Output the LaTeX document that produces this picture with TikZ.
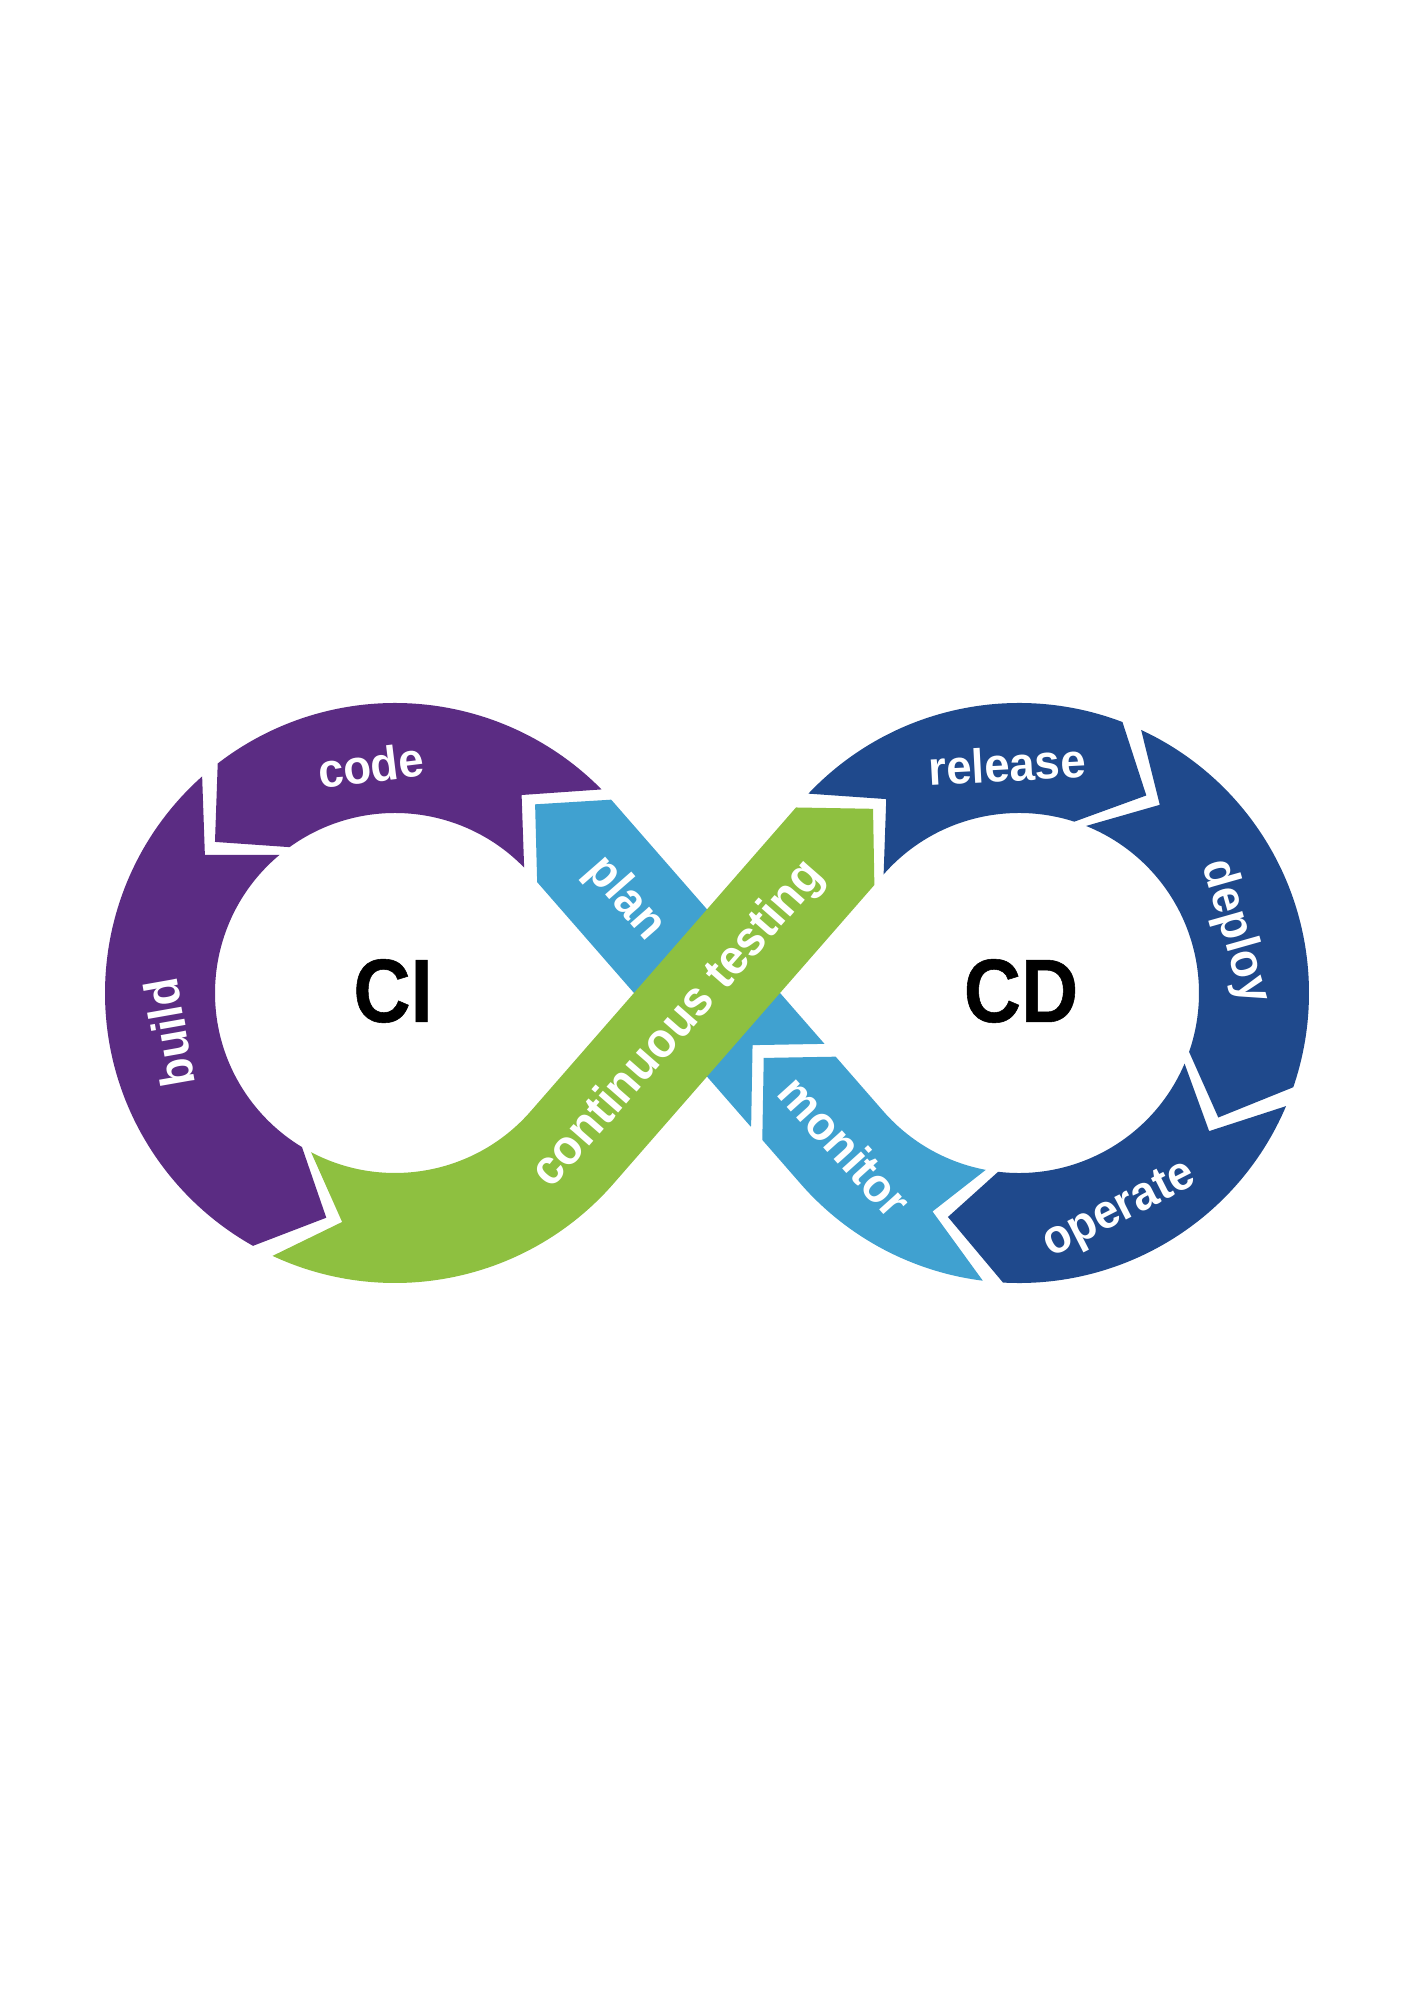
\documentclass[tikz,border=0pt]{standalone}
\usepackage{fontspec}
\usepackage{graphicx}
\usetikzlibrary{calc}
\newfontfamily\labelfont{Liberation Sans Bold}[FakeStretch=0.95]
\newfontfamily\bigfont{Liberation Sans Bold}[FakeStretch=0.88,FakeBold=0.6]
\definecolor{cipurple}{RGB}{91,44,131}
\definecolor{ctgreen}{RGB}{142,192,64}
\definecolor{plblue}{RGB}{64,161,208}
\definecolor{cddark}{RGB}{31,73,140}
\newcommand\chB{46}
\newcommand\chE{130}
\newcommand\chF{110}
% remove the region in front of a chevron head (tip, forward angle)
\newcommand\cuthead[2]{%
 \clip (-400,-400) -- (-400,2400) -- (1800,2400) -- (1800,-400) -- cycle
   ($(#1)+({#2+180-\chB}:\chE)$) -- (#1) -- ($(#1)+({#2+180+\chB}:\chE)$)
   -- ($(#1)+({#2+180+\chB}:\chE)+({#2}:\chF)$)
   -- ($(#1)+({#2+180-\chB}:\chE)+({#2}:\chF)$) -- cycle;}
% remove the region behind a chevron notch (notch tip, forward angle)
\newcommand\cuttail[2]{%
 \clip (-400,-400) -- (-400,2400) -- (1800,2400) -- (1800,-400) -- cycle
   (#1) -- ($(#1)+({#2+180-\chB}:\chE)$)
   -- ($(#1)+({#2+180-\chB}:\chE)+({#2+180}:\chF)$)
   -- ($(#1)+({#2+180+\chB}:\chE)+({#2+180}:\chF)$)
   -- ($(#1)+({#2+180+\chB}:\chE)$) -- cycle;}
\newcommand\lblfmt{\labelfont\fontsize{24}{28}\selectfont}
\begin{document}
\begin{tikzpicture}[x=0.5pt,y=0.5pt,
  seg/.style={line width=55pt},
  lbl/.style={text=white,font=\lblfmt,inner sep=0pt},
  arclbl/.style={lbl,anchor=base},
  bigtxt/.style={text=black,font=\bigfont\fontsize{45}{50}\selectfont,inner sep=0pt}]
\useasboundingbox (0,0) rectangle (1414,2000);
\fill[white] (0,0) rectangle (1414,2000);
\coordinate (CI) at (395,1007);
\coordinate (CD) at (1019,1007);
\pgfmathsetmacro\alf{asin(235/312)}
\coordinate (Pg) at ($(CI)+(270+\alf:235)$);
\coordinate (Qg) at ($(CD)+(90+\alf:235)$);
\coordinate (Qb) at ($(CD)+(270-\alf:235)$);
\coordinate (Pb) at ($(CI)+(90-\alf:235)$);
% chevron heads (H) and notches (N)
\coordinate (Hplan) at ($(CI)+(53.4:235)$);
\coordinate (Ncode) at ($(CI)+(57.4:235)$);
\coordinate (Hcode) at ($(CI)+(140:235)$);
\coordinate (Nbuild) at ($(CI)+(144:235)$);
\coordinate (Hbuild) at ($(CI)+(253:235)$);
\coordinate (Ngreen) at ($(CI)+(257:235)$);
\coordinate (Hgreen) at ($(CD)+(128.4:235)$);
\coordinate (Nrel) at ($(CD)+(124.4:235)$);
\coordinate (Hrel) at ($(CD)+(57.2:235)$);
\coordinate (Ndep) at ($(CD)+(53.2:235)$);
\coordinate (Hdep) at ($(CD)+(-32:235)$);
\coordinate (Nop) at ($(CD)+(-36:235)$);
\coordinate (Hop) at ($(CD)+(-107.6:235)$);
\coordinate (Nmon) at ($(CD)+(-111.6:235)$);
\coordinate (Hmon) at ($(Qb)+(180-\alf:119)$);
\coordinate (Nplan) at ($(Qb)+(180-\alf:136)$);
% code
\begin{scope}
 \cuttail{Ncode}{138}\cuthead{Hcode}{222}
 \draw[seg,cipurple] ($(CI)+(42.4:235)$) arc[start angle=42.4,end angle=140,radius=235];
\end{scope}
% build
\begin{scope}
 \cuttail{Nbuild}{226}\cuthead{Hbuild}{335}
 \draw[seg,cipurple] ($(CI)+(129:235)$) arc[start angle=129,end angle=253,radius=235];
\end{scope}
% release
\begin{scope}
 \cuttail{Nrel}{42}\cuthead{Hrel}{-26}
 \draw[seg,cddark] ($(CD)+(139.4:235)$) arc[start angle=139.4,end angle=57.2,radius=235];
\end{scope}
% deploy
\begin{scope}
 \cuttail{Ndep}{-30}\cuthead{Hdep}{-112}
 \draw[seg,cddark] ($(CD)+(68.2:235)$) arc[start angle=68.2,end angle=-32,radius=235];
\end{scope}
% operate
\begin{scope}
 \cuttail{Nop}{-116}\cuthead{Hop}{-184}
 \draw[seg,cddark] ($(CD)+(-21:235)$) arc[start angle=-21,end angle=-107.6,radius=235];
\end{scope}
% monitor
\begin{scope}
 \cuttail{Nmon}{-188}\cuthead{Hmon}{135}
 \draw[seg,plblue] ($(CD)+(-96.6:235)$) arc[start angle=-96.6,end angle=-90-\alf,radius=235] -- (Hmon);
\end{scope}
% plan
\begin{scope}
 \cuttail{Nplan}{135}\cuthead{Hplan}{137.5}
 \draw[seg,plblue] ($(Qb)+(180-\alf:76)$) -- (Pb) arc[start angle=90-\alf,end angle=53.4,radius=235];
\end{scope}
% continuous testing
\begin{scope}
 \cuttail{Ngreen}{340}\cuthead{Hgreen}{45}
 \draw[seg,ctgreen] ($(CI)+(242:235)$) arc[start angle=242,end angle=270+\alf,radius=235]
   -- (Qg) arc[start angle=90+\alf,end angle=128.4,radius=235];
\end{scope}
% labels
\node[arclbl,rotate=7] (code) at ($(CI)+(96:212)$) {code};
\node[arclbl,rotate=100] (build) at ($(CI)+(190:212)$) {build};
\node[arclbl,rotate=3] (release) at ($(CD)+(93:212)$) {release};
\node[arclbl,rotate=-74.2] (deploy) at ($(CD)+(15.8:212)$) {deploy};
\node[arclbl,rotate=27] (operate) at ($(CD)+(295:251)$) {operate};
\node[arclbl,rotate=-48] (monitor) at ($(CD)+(221.5:249)$) {monitor};
\node[lbl,rotate=-\alf] (plan) at ($(Qb)+(180-\alf:330)$) {plan};
\node[lbl,rotate=\alf,font=\labelfont\fontsize{24.5}{28}\selectfont] (ct) at ($(Pg)+(\alf:163)$) {continuous testing};
\node[bigtxt] (ci) at (393,1009) {CI};
\node[bigtxt] (cd) at (1021,1009) {CD};
\end{tikzpicture}
\end{document}
